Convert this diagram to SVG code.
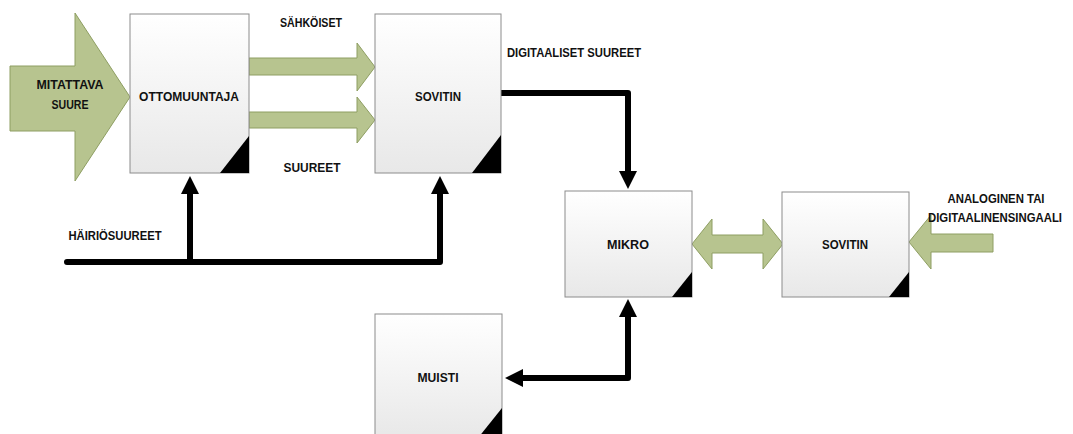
<svg xmlns="http://www.w3.org/2000/svg" width="1073" height="434" viewBox="0 0 1073 434">
<defs>
<linearGradient id="boxg" x1="0" y1="0" x2="0" y2="1">
<stop offset="0" stop-color="#ffffff"/>
<stop offset="1" stop-color="#e8e8e8"/>
</linearGradient>
<marker id="ah" viewBox="0 0 10 10" refX="0" refY="5" markerWidth="3.3" markerHeight="3" markerUnits="strokeWidth" orient="auto-start-reverse">
<path d="M0,0 L10,5 L0,10 z" fill="#000"/>
</marker>
</defs>
<style>
.box{fill:url(#boxg);stroke:#8c8c8c;stroke-width:1}
.tri{fill:#000}
.g{fill:#b7c48f;stroke:#8e9e62;stroke-width:1}
.t{font-family:"Liberation Sans",Arial,sans-serif;font-weight:bold;font-size:13px;fill:#111;text-anchor:middle;dominant-baseline:central}
.c{fill:none;stroke:#000;stroke-width:6;stroke-linejoin:round;stroke-linecap:round}
</style>
<rect width="1073" height="434" fill="#fff"/>

<g id="connectors">
<path class="g" d="M10,66 L75,66 L75,13 L130,97 L75,181 L75,131 L10,131 z"/>
<path class="g" d="M249,58 L357,58 L357,43 L375,67 L357,91 L357,75 L249,75 z"/>
<path class="g" d="M249,112 L357,112 L357,97 L375,120 L357,143 L357,128 L249,128 z"/>
<path class="g" d="M692,244 L712,219 L712,235 L763,235 L763,219 L783,244 L763,269 L763,253 L712,253 L712,269 z"/>
<path class="g" d="M909,242 L931,215 L931,234 L993,234 L993,252 L931,252 L931,269 z"/>
<path class="c" d="M501,93 L628,93 L628,171" marker-end="url(#ah)"/>
<path class="c" d="M67,262 L440,262 L440,194" marker-end="url(#ah)"/>
<path class="c" d="M190,262 L190,194" marker-end="url(#ah)"/>
<path class="c" d="M628,317 L628,378 L523,378" marker-start="url(#ah)" marker-end="url(#ah)"/>
</g>

<g id="ottomuuntaja">
<rect class="box" x="130" y="14" width="119" height="159"/>
<path class="tri" d="M249,136 L249,173 L220,173 z"/>
<text class="t" x="189" y="96" textLength="100" lengthAdjust="spacingAndGlyphs">OTTOMUUNTAJA</text>
</g>
<g id="sovitin1">
<rect class="box" x="375" y="14" width="126" height="159"/>
<path class="tri" d="M501,135 L501,173 L472,173 z"/>
<text class="t" x="438" y="96" textLength="46" lengthAdjust="spacingAndGlyphs">SOVITIN</text>
</g>
<g id="mikro">
<rect class="box" x="565" y="191" width="127" height="106"/>
<path class="tri" d="M692,272 L692,297 L672,297 z"/>
<text class="t" x="628" y="244" textLength="42" lengthAdjust="spacingAndGlyphs">MIKRO</text>
</g>
<g id="sovitin2">
<rect class="box" x="782" y="192" width="127" height="105"/>
<path class="tri" d="M909,272 L909,297 L889,297 z"/>
<text class="t" x="845" y="244" textLength="46" lengthAdjust="spacingAndGlyphs">SOVITIN</text>
</g>
<g id="muisti">
<rect class="box" x="375" y="314" width="127" height="124"/>
<path class="tri" d="M502,408 L502,438 L478,438 z"/>
<text class="t" x="438" y="377" textLength="41" lengthAdjust="spacingAndGlyphs">MUISTI</text>
</g>

<g id="labels">
<text class="t" x="70" y="84" textLength="67" lengthAdjust="spacingAndGlyphs">MITATTAVA</text>
<text class="t" x="70" y="104" textLength="37" lengthAdjust="spacingAndGlyphs">SUURE</text>
<text class="t" x="311" y="22" textLength="62" lengthAdjust="spacingAndGlyphs">SÄHKÖISET</text>
<text class="t" x="312" y="167" textLength="57" lengthAdjust="spacingAndGlyphs">SUUREET</text>
<text class="t" x="507" y="52" style="text-anchor:start" textLength="134" lengthAdjust="spacingAndGlyphs">DIGITAALISET SUUREET</text>
<text class="t" x="115" y="235" textLength="93" lengthAdjust="spacingAndGlyphs">HÄIRIÖSUUREET</text>
<text class="t" x="996" y="198" textLength="97" lengthAdjust="spacingAndGlyphs">ANALOGINEN TAI</text>
<text class="t" x="995" y="218" style="font-size:12px" textLength="134" lengthAdjust="spacingAndGlyphs">DIGITAALINENSINGAALI</text>
</g>
</svg>
